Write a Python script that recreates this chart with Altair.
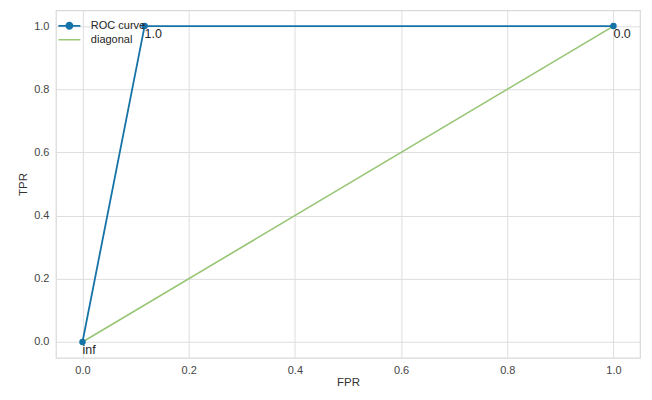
import altair as alt
import pandas as pd

# ROC curve data
fpr = [0.0, 0.117, 1.0]
tpr = [0.0, 1.0, 1.0]
thresholds = ["inf", "1.0", "0.0"]

diag_x = [0.0, 1.0]
diag_y = [0.0, 1.0]

series_names = ["ROC curve", "diagonal"]
series_colors = ["#1673a8", "#97c574"]

x_ticks = [0.0, 0.2, 0.4, 0.6, 0.8, 1.0]
y_ticks = [0.0, 0.2, 0.4, 0.6, 0.8, 1.0]

roc_df = pd.DataFrame({"fpr": fpr, "tpr": tpr, "label": thresholds, "order": list(range(len(fpr)))})
diag_df = pd.DataFrame({"fpr": diag_x, "tpr": diag_y, "order": list(range(len(diag_x)))})
legend_df = pd.DataFrame({"series": series_names, "fpr": [0.0, 0.0], "tpr": [0.0, 0.0]})

xs = alt.Scale(domain=[-0.05, 1.05], nice=False, zero=False)
ys = alt.Scale(domain=[-0.05, 1.05], nice=False, zero=False)

x_axis = alt.Axis(values=x_ticks, format=".1f", title="FPR", grid=True)
y_axis = alt.Axis(values=y_ticks, format=".1f", title="TPR", grid=True)

X = alt.X("fpr:Q", scale=xs, axis=x_axis)
Y = alt.Y("tpr:Q", scale=ys, axis=y_axis)

diag_line = alt.Chart(diag_df).mark_line(strokeWidth=1.6, color=series_colors[1]).encode(
    x=X, y=Y, order="order:O"
)

roc_line = alt.Chart(roc_df).mark_line(strokeWidth=1.8, color=series_colors[0]).encode(
    x=X, y=Y, order="order:O"
)

roc_points = alt.Chart(roc_df).mark_circle(size=42, opacity=1, color=series_colors[0]).encode(
    x=X, y=Y
)

roc_text = alt.Chart(roc_df).mark_text(
    align="left", baseline="top", dx=0, dy=2, fontSize=12.5, font="Liberation Sans", color="#262626"
).encode(x=X, y=Y, text="label:N")

roc_path = "M-2.75,-0.22H2.75V0.22H-2.75Z M-1,0A1,1 0 1,1 1,0A1,1 0 1,1 -1,0Z"
diag_path = "M-2.75,-0.18H2.75V0.18H-2.75Z"

leg = alt.Legend(
    title=None,
    orient="none",
    legendX=8,
    legendY=10,
    symbolSize=64,
    labelOffset=16,
    labelFontSize=11,
    labelFont="Liberation Sans",
    labelColor="#262626",
    rowPadding=2,
    padding=0,
)

legend_layer = alt.Chart(legend_df).mark_point(filled=True, opacity=1, size=64).transform_filter(
    "false"
).encode(
    x=X,
    y=Y,
    color=alt.Color("series:N", scale=alt.Scale(domain=series_names, range=series_colors), legend=leg),
    shape=alt.Shape("series:N", scale=alt.Scale(domain=series_names, range=[roc_path, diag_path]), legend=leg),
)

chart = alt.layer(diag_line, roc_line, roc_points, roc_text, legend_layer).properties(
    width=585,
    height=348,
    autosize=alt.AutoSizeParams(type="none"),
    padding={"left": 48, "top": 2, "right": 4, "bottom": 34},
    background="white",
).configure_view(
    stroke="#d9d9d9", strokeWidth=1.2
).configure_axis(
    domain=False,
    ticks=False,
    gridColor="#dedede",
    gridWidth=1,
    labelFont="Liberation Sans",
    labelFontSize=11,
    labelColor="#444444",
    labelPadding=7,
    titleFont="Liberation Sans",
    titleFontSize=11.5,
    titleFontWeight="normal",
    titleColor="#333333",
).configure_axisY(
    titlePadding=5
).configure_axisX(
    titlePadding=1
)

chart.save("out.html", embed_options={"renderer": "svg", "actions": False})
